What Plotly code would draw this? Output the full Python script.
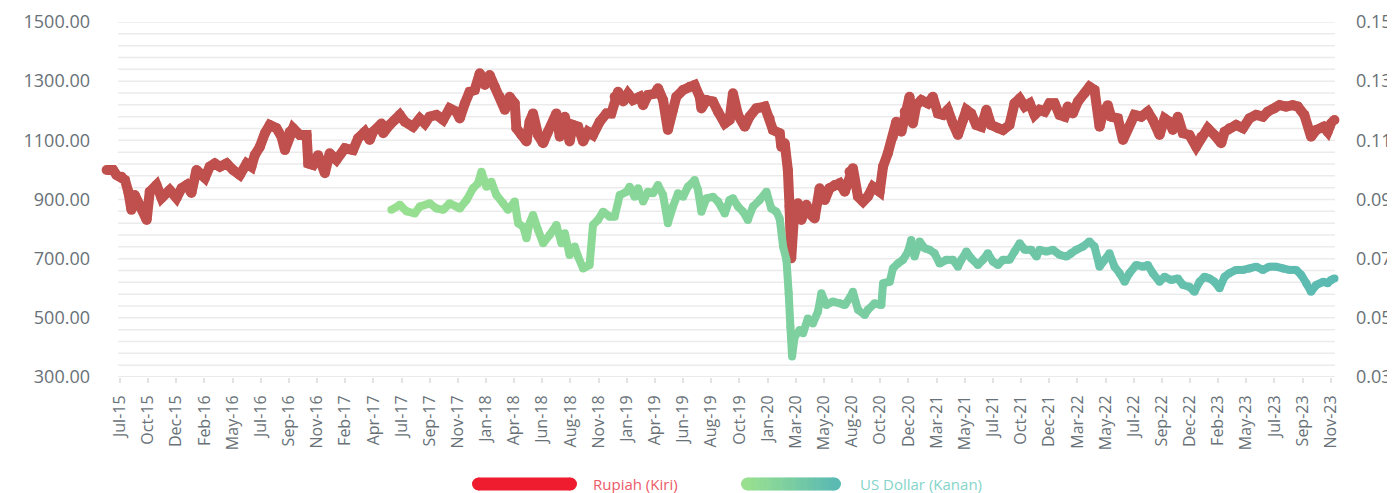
import plotly.graph_objects as go

# ---------------- data ----------------
x_labels = ["Jul-15", "Oct-15", "Dec-15", "Feb-16", "May-16", "Jul-16", "Sep-16", "Nov-16",
            "Feb-17", "Apr-17", "Jul-17", "Sep-17", "Nov-17", "Jan-18", "Apr-18", "Jun-18",
            "Aug-18", "Nov-18", "Jan-19", "Apr-19", "Jun-19", "Aug-19", "Oct-19", "Jan-20",
            "Mar-20", "May-20", "Aug-20", "Oct-20", "Dec-20", "Mar-21", "May-21", "Jul-21",
            "Oct-21", "Dec-21", "Mar-22", "May-22", "Jul-22", "Sep-22", "Dec-22", "Feb-23",
            "May-23", "Jul-23", "Sep-23", "Nov-23"]

# position along the category axis (in tick-label units) and value
rupiah_pos = [-0.47, -0.24, -0.12, 0.06, 0.18, 0.30, 0.41, 0.53, 0.65, 0.77, 0.95, 1.06, 1.30, 1.48, 1.77,
              2.01, 2.19, 2.37, 2.54, 2.72, 3.02, 3.19, 3.37, 3.55, 3.79, 4.02, 4.26, 4.50, 4.67, 4.79,
              4.97, 5.15, 5.32, 5.56, 5.74, 5.86, 6.03, 6.15, 6.39, 6.63, 6.69, 6.86, 7.04, 7.28, 7.45,
              7.69, 7.99, 8.28, 8.46, 8.70, 8.87, 8.99, 9.29, 9.35, 9.58, 9.76, 9.94, 10.12, 10.41, 10.65,
              10.83, 11.00, 11.24, 11.48, 11.71, 11.95, 12.07, 12.25, 12.42, 12.60, 12.78, 12.96, 13.13,
              13.31, 13.49, 13.67, 13.84, 14.02, 14.08, 14.26, 14.44, 14.55, 14.67, 14.85, 15.03, 15.20,
              15.38, 15.50, 15.62, 15.80, 15.97, 16.09, 16.27, 16.45, 16.62, 16.80, 17.04, 17.28, 17.45,
              17.57, 17.69, 17.87, 18.04, 18.22, 18.46, 18.58, 18.75, 18.99, 19.11, 19.29, 19.46, 19.64,
              19.76, 20.00, 20.23, 20.41, 20.59, 20.65, 20.83, 21.06, 21.24, 21.48, 21.65,
              21.77, 21.95, 22.19, 22.36, 22.60, 22.90, 23.07, 23.19, 23.43, 23.49, 23.61, 23.72, 23.78,
              23.84, 23.96, 24.08, 24.20, 24.38, 24.49, 24.67, 24.85, 25.03, 25.20, 25.38, 25.56, 25.74,
              25.91, 26.03, 26.21, 26.39, 26.56, 26.74, 26.98, 27.10, 27.27, 27.45, 27.57, 27.75, 27.87,
              28.04, 28.16, 28.28, 28.46, 28.69, 28.87, 29.05, 29.23, 29.40, 29.58, 29.76, 29.94, 30.06,
              30.23, 30.41, 30.59, 30.77, 30.94, 31.18, 31.36, 31.59, 31.77, 31.95, 32.13, 32.31, 32.48,
              32.66, 32.84, 33.01, 33.19, 33.37, 33.55, 33.66, 33.84, 34.02, 34.26, 34.43, 34.61, 34.79,
              34.91, 35.08, 35.20, 35.44, 35.62, 35.79, 36.03, 36.27, 36.50, 36.68, 36.92, 37.10, 37.27,
              37.39, 37.57, 37.75, 37.98, 38.22, 38.40, 38.63, 38.87, 39.11, 39.23, 39.40, 39.64, 39.88,
              40.11, 40.35, 40.59, 40.76, 41.00, 41.18, 41.41, 41.65, 41.83, 42.06, 42.30, 42.48, 42.74,
              42.89, 43.01, 43.13]
rupiah = [1000, 1000, 983, 977, 966, 926, 865, 915, 888, 876, 831, 926, 949, 905, 932,
          905, 938, 949, 922, 1000, 973, 1011, 1022, 1011, 1022, 1000, 983, 1022, 1011, 1050,
          1078, 1124, 1152, 1141, 1112, 1067, 1129, 1141, 1118, 1118, 1022, 1017, 1050, 989, 1056,
          1034, 1073, 1067, 1107, 1129, 1101, 1129, 1157, 1124, 1152, 1169, 1186, 1163, 1146, 1174,
          1157, 1180, 1186, 1169, 1208, 1197, 1174, 1225, 1264, 1270, 1327, 1287, 1321,
          1281, 1247, 1203, 1247, 1225, 1141, 1118, 1096, 1163, 1191, 1118, 1090, 1129,
          1157, 1191, 1112, 1180, 1096, 1152, 1146, 1096, 1129, 1118, 1163, 1191, 1191,
          1247, 1264, 1231, 1258, 1236, 1247, 1219, 1253, 1258, 1276, 1236, 1135, 1203,
          1247, 1270, 1281, 1287, 1247, 1208, 1236, 1231, 1197, 1157, 1169,
          1259, 1186, 1146, 1180, 1208, 1214, 1174, 1135, 1124, 1078, 1090, 1000, 876,
          701, 876, 887, 831, 882, 853, 836, 938, 898, 938, 949, 955, 926,
          994, 1006, 910, 893, 910, 943, 926, 1011, 1056, 1112, 1163, 1129, 1197,
          1247, 1157, 1219, 1236, 1225, 1247, 1191, 1186, 1203, 1157, 1118, 1169, 1203,
          1191, 1152, 1146, 1203, 1152, 1141, 1135, 1152, 1225, 1241, 1214, 1225, 1186,
          1203, 1197, 1225, 1225, 1186, 1180, 1214, 1191, 1231, 1259, 1281, 1270, 1146,
          1191, 1219, 1180, 1174, 1101, 1141, 1186, 1180, 1197, 1169, 1118, 1174, 1163,
          1135, 1180, 1124, 1118, 1078, 1112, 1141, 1118, 1090, 1129, 1141, 1152, 1141,
          1174, 1186, 1180, 1197, 1208, 1219, 1214, 1219, 1214, 1186, 1112, 1135, 1146,
          1129, 1157, 1169]

usd_pos = [9.64, 9.94, 10.18, 10.47, 10.65, 11.00, 11.24, 11.48, 11.71, 11.95, 12.07, 12.31, 12.54,
           12.72, 12.84, 13.02, 13.19, 13.37, 13.61, 13.78, 14.02, 14.14, 14.32, 14.44, 14.55, 14.67,
           14.85, 15.03, 15.26, 15.50, 15.68, 15.80, 15.97, 16.15, 16.27, 16.45, 16.68, 16.80, 16.98,
           17.16, 17.39, 17.57, 17.75, 17.99, 18.10, 18.28, 18.40, 18.58, 18.75, 18.93, 19.11, 19.29,
           19.46, 19.64, 19.82, 20.00, 20.17, 20.41, 20.53, 20.65, 20.83, 21.06, 21.24, 21.48, 21.65,
           21.77, 21.95, 22.13, 22.30, 22.48, 22.72, 22.96, 23.13, 23.31, 23.43, 23.55, 23.67, 23.75,
           23.81, 23.87, 23.96, 24.14, 24.26, 24.43, 24.61, 24.79, 24.91, 25.09, 25.32, 25.56, 25.74,
           25.91, 26.03, 26.21, 26.45, 26.56, 26.80, 27.04, 27.10, 27.34, 27.45, 27.63, 27.81, 27.99,
           28.10, 28.22, 28.40, 28.58, 28.75, 28.93, 29.11, 29.35, 29.58, 29.76, 29.88, 30.06, 30.23,
           30.47, 30.65, 30.82, 31.00, 31.18, 31.36, 31.59, 31.77, 31.95, 32.13, 32.36, 32.55, 32.66,
           32.90, 33.13, 33.37, 33.61, 33.78, 33.96, 34.20, 34.43, 34.61, 34.79, 34.97, 35.14, 35.32,
           35.50, 35.68, 35.85, 36.09, 36.33, 36.50, 36.68, 36.92, 37.10, 37.33, 37.57, 37.75, 37.98,
           38.16, 38.34, 38.52, 38.69, 38.87, 39.05, 39.23, 39.40, 39.64, 39.88, 40.11, 40.35, 40.59,
           40.82, 41.06, 41.30, 41.53, 41.77, 41.95, 42.13, 42.30, 42.48, 42.74, 42.89, 43.01, 43.13]
usd = [0.0865, 0.0882, 0.0860, 0.0853, 0.0876, 0.0887, 0.0870, 0.0865, 0.0887, 0.0876, 0.0870, 0.0898, 0.0938,
       0.0955, 0.0994, 0.0943, 0.0960, 0.0915, 0.0887, 0.0865, 0.0893, 0.0820, 0.0808, 0.0769, 0.0820, 0.0848,
       0.0797, 0.0752, 0.0780, 0.0814, 0.0752, 0.0786, 0.0712, 0.0741, 0.0707, 0.0667, 0.0679, 0.0814, 0.0831,
       0.0859, 0.0842, 0.0842, 0.0915, 0.0926, 0.0943, 0.0909, 0.0938, 0.0893, 0.0926, 0.0921, 0.0949, 0.0915,
       0.0820, 0.0876, 0.0921, 0.0909, 0.0943, 0.0966, 0.0932, 0.0859, 0.0904, 0.0909, 0.0893, 0.0853, 0.0898,
       0.0904, 0.0876, 0.0859, 0.0831, 0.0876, 0.0898, 0.0926, 0.0870, 0.0859, 0.0836, 0.0741, 0.0696, 0.0583,
       0.0470, 0.0369, 0.0436, 0.0459, 0.0448, 0.0498, 0.0481, 0.0521, 0.0583, 0.0543, 0.0555, 0.0549, 0.0543,
       0.0566, 0.0588, 0.0527, 0.0510, 0.0527, 0.0549, 0.0543, 0.0617, 0.0622, 0.0667, 0.0684, 0.0696, 0.0724,
       0.0763, 0.0707, 0.0758, 0.0735, 0.0730, 0.0718, 0.0684, 0.0696, 0.0696, 0.0673, 0.0696, 0.0724, 0.0701,
       0.0679, 0.0696, 0.0718, 0.0690, 0.0679, 0.0696, 0.0696, 0.0724, 0.0752, 0.0730, 0.0730, 0.0707, 0.0730,
       0.0724, 0.0730, 0.0713, 0.0707, 0.0718, 0.0730, 0.0741, 0.0758, 0.0741, 0.0673, 0.0696, 0.0718, 0.0673,
       0.0651, 0.0622, 0.0651, 0.0679, 0.0673, 0.0679, 0.0651, 0.0622, 0.0639, 0.0628, 0.0633, 0.0611, 0.0605,
       0.0588, 0.0622, 0.0639, 0.0633, 0.0622, 0.0600, 0.0639, 0.0651, 0.0662, 0.0662, 0.0667, 0.0673, 0.0662,
       0.0673, 0.0673, 0.0667, 0.0662, 0.0662, 0.0645, 0.0617, 0.0588, 0.0611, 0.0622, 0.0617, 0.0628, 0.0633]

legend_names = ["Rupiah (Kiri)", "US Dollar (Kanan)"]

# ---------------- styling ----------------
RED = "#C0504D"
G0 = (152, 224, 144)
G1 = (91, 186, 178)
FONT = "Open Sans"
TICK_COLOR = "#687177"
GRID = "#EBEBEB"
AXIS_LINE = "#E3E3E3"

Y_RANGE = [300, 1500]
GRID_STEP = 40
X_RANGE = [-0.6, 43.15]      # data starts a little before the first tick
GRID_START = -0.07           # where the grid / axis line begin

OFF = 8                      # default page body margin
W, H = 1395 - OFF, 493 - OFF
ML, MR, MT, MB = 95, 60, 14, 116
PW, PH = W - ML - MR, H - MT - MB


def mix(f):
    return "rgb(%d,%d,%d)" % tuple(round(a + (b - a) * f) for a, b in zip(G0, G1))


p0, p1 = usd_pos[0], usd_pos[-1]


def gcol(p):
    return mix((p - p0) / (p1 - p0))


fig = go.Figure()

# US Dollar line with horizontal colour gradient (segment by segment)
for i in range(len(usd) - 1):
    fig.add_trace(go.Scatter(
        x=usd_pos[i:i + 2], y=usd[i:i + 2], mode="lines",
        line=dict(color=gcol((usd_pos[i] + usd_pos[i + 1]) / 2), width=8),
        yaxis="y2", showlegend=False, hoverinfo="skip"))
fig.add_trace(go.Scatter(
    x=usd_pos, y=usd, mode="markers", name=legend_names[1],
    marker=dict(color=[gcol(p) for p in usd_pos], size=8, line=dict(width=0)),
    yaxis="y2", cliponaxis=False, showlegend=False))

# Rupiah line
fig.add_trace(go.Scatter(
    x=rupiah_pos, y=rupiah, mode="lines+markers", name=legend_names[0],
    line=dict(color=RED, width=10), marker=dict(color=RED, size=10, line=dict(width=0)),
    cliponaxis=False, showlegend=False))


# ---------------- decorations ----------------
def px(x):
    return (x - OFF - ML) / PW


def py(y):
    return (OFF + H - MB - y) / PH


shapes = []
annotations = []

# horizontal grid lines (start at the first tick, like the original)
g = Y_RANGE[0] + GRID_STEP
while g <= Y_RANGE[1]:
    shapes.append(dict(type="line", xref="x", yref="y", x0=GRID_START, x1=X_RANGE[1], y0=g, y1=g,
                       line=dict(color=GRID, width=1.5), layer="below"))
    g += GRID_STEP
# x-axis baseline
shapes.append(dict(type="line", xref="x", yref="y", x0=GRID_START, x1=X_RANGE[1],
                   y0=Y_RANGE[0], y1=Y_RANGE[0],
                   line=dict(color=AXIS_LINE, width=1.5), layer="below"))


def pill(x0, x1, yc, h, colfun, nstrip):
    r = h / 2
    shapes.append(dict(type="circle", xref="paper", yref="paper",
                       x0=px(x0), x1=px(x0 + h), y0=py(yc + r), y1=py(yc - r),
                       fillcolor=colfun(0), line=dict(width=0), layer="above"))
    shapes.append(dict(type="circle", xref="paper", yref="paper",
                       x0=px(x1 - h), x1=px(x1), y0=py(yc + r), y1=py(yc - r),
                       fillcolor=colfun(1), line=dict(width=0), layer="above"))
    a, b = x0 + r, x1 - r
    for k in range(nstrip):
        s0 = a + (b - a) * k / nstrip
        s1 = a + (b - a) * (k + 1) / nstrip + 0.6
        shapes.append(dict(type="rect", xref="paper", yref="paper",
                           x0=px(s0), x1=px(min(s1, b)), y0=py(yc + r), y1=py(yc - r),
                           fillcolor=colfun((k + 0.5) / nstrip), line=dict(width=0), layer="above"))


pill(472, 577, 484, 13, lambda f: "#EE1C2E", 1)
pill(741, 841, 484, 13, mix, 40)

annotations.append(dict(text=legend_names[0], xref="paper", yref="paper", x=px(591), y=py(484),
                        xanchor="left", yanchor="middle", showarrow=False,
                        font=dict(family=FONT, size=15, color="#EC5A67")))
annotations.append(dict(text=legend_names[1], xref="paper", yref="paper", x=px(858), y=py(484),
                        xanchor="left", yanchor="middle", showarrow=False,
                        font=dict(family=FONT, size=15, color="#84D4C9")))

fig.update_layout(
    width=W, height=H,
    margin=dict(l=ML, r=MR, t=MT, b=MB, autoexpand=False),
    plot_bgcolor="white", paper_bgcolor="white",
    font=dict(family=FONT, color=TICK_COLOR),
    showlegend=False,
    shapes=shapes, annotations=annotations,
    xaxis=dict(range=X_RANGE, tickmode="array",
               tickvals=list(range(len(x_labels))), ticktext=x_labels,
               tickangle=-90, showgrid=False, zeroline=False, automargin=False,
               showline=False,
               ticks="outside", ticklen=5, tickcolor=AXIS_LINE, tickwidth=1.5,
               ticklabelstandoff=6,
               tickfont=dict(family=FONT, size=16, color=TICK_COLOR)),
    yaxis=dict(range=Y_RANGE, tick0=300, dtick=200, tickformat=".2f",
               showgrid=False, zeroline=False, automargin=False,
               ticklabelstandoff=12,
               tickfont=dict(family=FONT, size=18, color=TICK_COLOR)),
    yaxis2=dict(overlaying="y", side="right", range=[0.03, 0.15], tick0=0.03, dtick=0.02,
                tickformat=".2f", showgrid=False, zeroline=False, showline=False, automargin=False,
                ticklabelstandoff=20,
                tickfont=dict(family=FONT, size=18, color=TICK_COLOR)),
)

fig.write_html("out.html")
